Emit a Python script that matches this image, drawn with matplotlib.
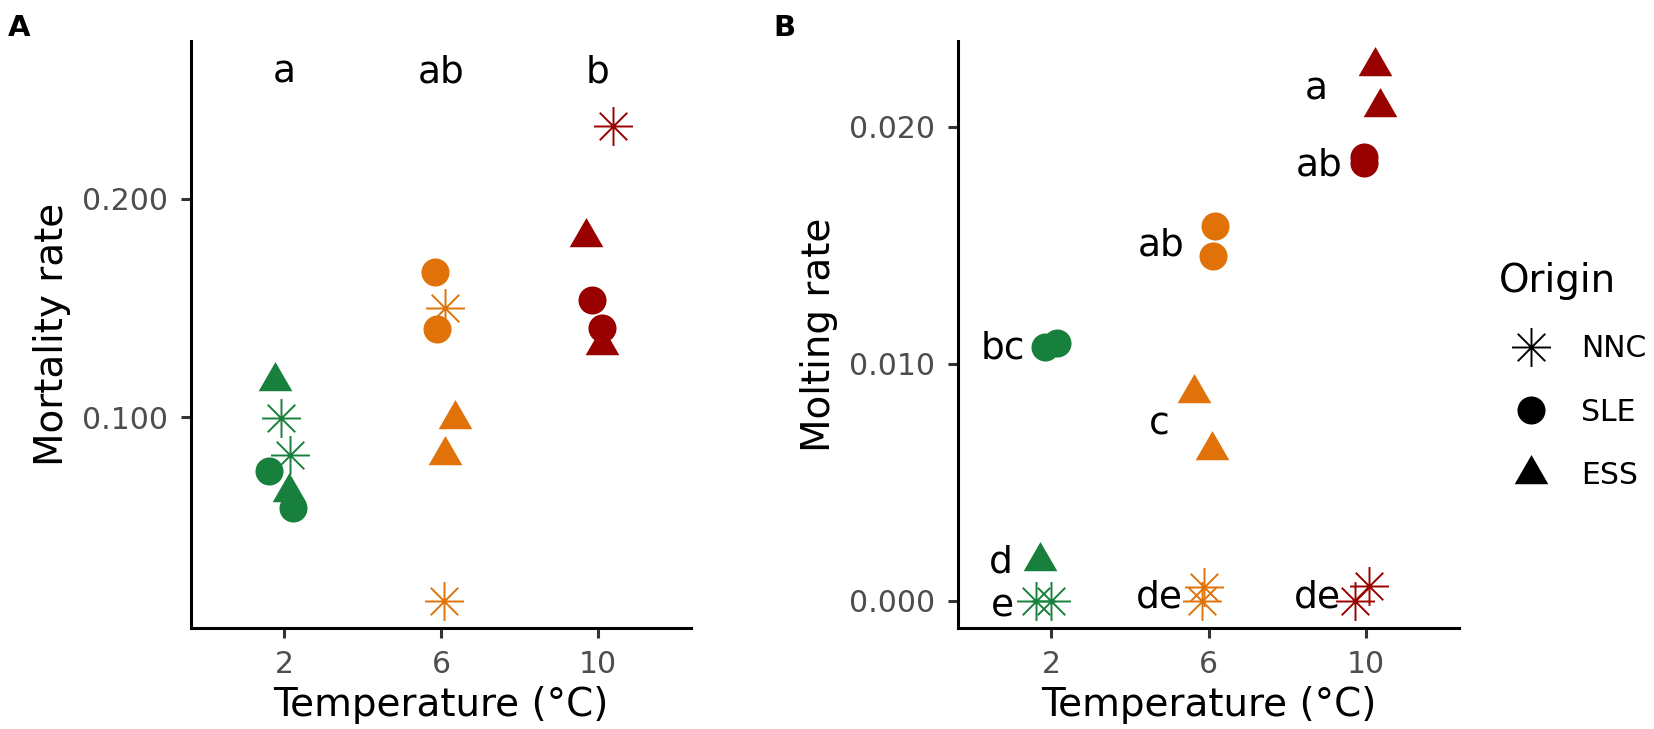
import numpy as np
import matplotlib
matplotlib.use("Agg")
import matplotlib.pyplot as plt
from matplotlib.path import Path
from matplotlib.lines import Line2D

# ---- data ----
temp_colors = {2: "#17803C", 6: "#E17209", 10: "#990000"}
origins = ["NNC", "SLE", "ESS"]

# panel A: mortality rate (x = jittered temperature)
mort_temp = [2, 2, 2, 2, 2, 2, 6, 6, 6, 6, 6, 6, 10, 10, 10, 10, 10]
mort_origin = ["NNC", "NNC", "SLE", "SLE", "ESS", "ESS",
               "NNC", "NNC", "SLE", "SLE", "ESS", "ESS",
               "NNC", "SLE", "SLE", "ESS", "ESS"]
mort_x = [1.92, 2.16, 1.63, 2.22, 1.76, 2.13,
          6.10, 6.08, 5.85, 5.89, 6.35, 6.10,
          10.37, 9.86, 10.09, 9.69, 10.09]
mort_y = [0.0997, 0.0827, 0.0752, 0.0586, 0.1164, 0.0659,
          0.1500, 0.0161, 0.1666, 0.1406, 0.0993, 0.0827,
          0.2334, 0.1538, 0.1407, 0.1827, 0.1332]
mort_letters = ["a", "ab", "b"]
mort_letter_x = [2, 6, 10]
mort_letter_y = [0.2532, 0.2532, 0.2532]

# panel B: molting rate
molt_temp = [2, 2, 2, 2, 2, 6, 6, 6, 6, 6, 6, 10, 10, 10, 10, 10, 10]
molt_origin = ["NNC", "NNC", "SLE", "SLE", "ESS",
               "NNC", "NNC", "SLE", "SLE", "ESS", "ESS",
               "NNC", "NNC", "SLE", "SLE", "ESS", "ESS"]
molt_x = [1.62, 2.00, 1.85, 2.15, 1.72,
          5.83, 5.88, 6.16, 6.11, 5.64, 6.10,
          9.73, 10.07, 9.95, 9.96, 10.23, 10.35]
molt_y = [0.0, 0.0, 0.01070, 0.01087, 0.00165,
          0.0, 0.00059, 0.01580, 0.01454, 0.00876, 0.00634,
          0.0, 0.00060, 0.01871, 0.01846, 0.02255, 0.02083]
molt_letters = ["a", "ab", "ab", "bc", "c", "d", "e", "de", "de"]
molt_letter_x = [9.03, 9.40, 5.39, 1.33, 5.00, 1.03, 1.06, 5.34, 9.36]
molt_letter_y = [0.02113, 0.01795, 0.01458, 0.01022, 0.00699, 0.00117, -0.00069, -0.00029, -0.00029]

# ---- marker shapes (R style asterisk and triangle centred on centroid) ----
c = np.sqrt(0.5)
asterisk = Path([(-1, 0), (1, 0), (0, -1), (0, 1), (-c, -c), (c, c), (-c, c), (c, -c)],
                [Path.MOVETO, Path.LINETO] * 4)
triangle = Path([(0, 1.555), (1.347, -0.778), (-1.347, -0.778), (0, 1.555)], closed=True)
marker_kw = {
    "NNC": dict(marker=asterisk, markersize=28, markerfacecolor="none", markeredgewidth=1.4),
    "SLE": dict(marker="o", markersize=20.2, markeredgewidth=0),
    "ESS": dict(marker=triangle, markersize=28, markeredgewidth=0),
}

W, H = 1654, 729
fig = plt.figure(figsize=(W / 100, H / 100), dpi=100)
plt.rcParams["font.family"] = "DejaVu Sans"

ax_a = fig.add_axes([191 / W, 1 - 628 / H, 500 / W, 587 / H])
ax_b = fig.add_axes([958 / W, 1 - 628 / H, 501 / W, 587 / H])


def style_axes(ax, yticks, ylim, ylabel):
    ax.set_xlim(-0.37, 12.37)
    ax.set_ylim(*ylim)
    ax.set_xticks([2, 6, 10])
    ax.set_xticklabels(["2", "6", "10"])
    ax.set_yticks(yticks)
    ax.set_yticklabels(["%.3f" % v for v in yticks])
    for side in ["top", "right"]:
        ax.spines[side].set_visible(False)
    for side in ["left", "bottom"]:
        ax.spines[side].set_linewidth(2.2)
        ax.spines[side].set_color("black")
    ax.tick_params(length=7.2, width=2.2, color="#333333", labelsize=21.5, labelcolor="#4D4D4D")
    ax.tick_params(axis="x", pad=8.6)
    ax.tick_params(axis="y", pad=9.4)
    ax.set_xlabel("Temperature (°C)", fontsize=28)
    ax.xaxis.set_label_coords(0.5, -0.1494)
    ax.xaxis.label.set_va("baseline")
    ax.set_ylabel(ylabel, fontsize=28)
    ax.yaxis.set_label_coords(-0.256, 0.5)
    ax.yaxis.label.set_va("baseline")


def draw_points(ax, xs, ys, temps, origs):
    for x, y, t, o in zip(xs, ys, temps, origs):
        ax.plot(x, y, linestyle="none", color=temp_colors[t], clip_on=False, **marker_kw[o])


style_axes(ax_a, [0.1, 0.2], (0.00352, 0.2723), "Mortality rate")
draw_points(ax_a, mort_x, mort_y, mort_temp, mort_origin)
for lab, x, y in zip(mort_letters, mort_letter_x, mort_letter_y):
    ax_a.text(x, y, lab, fontsize=27, ha="center", va="baseline")

style_axes(ax_b, [0.0, 0.01, 0.02], (-0.001157, 0.02362), "Molting rate")
draw_points(ax_b, molt_x, molt_y, molt_temp, molt_origin)
for lab, x, y in zip(molt_letters, molt_letter_x, molt_letter_y):
    ax_b.text(x, y, lab, fontsize=27, ha="right", va="baseline")

# panel tags
fig.text(8 / W, 1 - 35.5 / H, "A", fontsize=21, fontweight="bold", ha="left", va="baseline")
fig.text(773 / W, 1 - 35.5 / H, "B", fontsize=21, fontweight="bold", ha="left", va="baseline")

# legend
handles = [Line2D([], [], linestyle="none", color="black", **marker_kw[o]) for o in origins]
fig.legend(handles, origins, loc="upper left", bbox_to_anchor=(1499 / W, 1 - 262 / H),
           frameon=False, title="Origin", title_fontsize=28, fontsize=21.5,
           alignment="left", borderpad=0, borderaxespad=0, handlelength=2.12,
           handletextpad=0.62, labelspacing=1.15)

fig.savefig("out.png", dpi=100, facecolor="white")
